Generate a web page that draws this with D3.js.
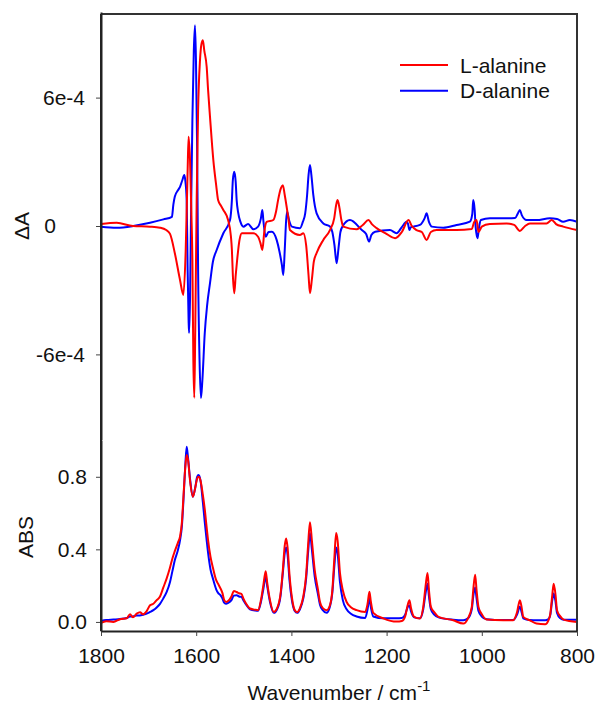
<!DOCTYPE html>
<html>
<head>
<meta charset="utf-8">
<script src="https://cdn.jsdelivr.net/npm/d3@7"></script>
<style>
  body { margin: 0; background: #fff; }
  svg { display: block; font-family: Arial, "Liberation Sans", sans-serif; }
</style>
</head>
<body>
<svg id="chart" width="595" height="711"></svg>
<script>
// difference spectra (units of 1e-4)
var wnDiffL = [1800,1767,1733,1697,1676,1663,1655,1645,1634,1627,1622,1618,1616,1613,1610,1608,1606,1604,1602,1599,1596,1592,1589,1586,1583,1578,1575,1571,1564,1558,1554,1548,1543,1533,1527,1525,1523,1520,1517,1514,1509,1504,1480,1470,1465,1461,1457,1452,1438,1432,1428,1422,1418,1414,1410,1406,1403,1382,1375,1369,1364,1361,1357,1353,1347,1333,1319,1310,1306,1303,1299,1295,1291,1263,1250,1238,1231,1221,1203,1182,1168,1154,1147,1137,1126,1116,1107,1095,1053,1021,1016,1011,1007,1000,983,948,932,920,909,899,864,853,844,829,800];
var diffL = [0.09,0.15,0,-0.03,-0.08,-0.19,-0.37,-1.26,-2.52,-3.22,-1.1,2.6,4.17,3.1,0.5,-1.6,-6.3,-8.03,-4.9,1.2,5.4,7.75,8.5,8.68,8.2,7.44,6.35,5.1,3.08,1.9,1.21,0.95,0.75,0.28,-0.5,-1.12,-2.3,-3.14,-2.3,-1.59,-0.65,-0.34,-0.34,-0.5,-0.8,-1.12,-0.28,0.19,0.28,0.7,1.21,1.77,1.91,1.45,0.9,0.3,-0.19,-0.42,-0.34,-0.9,-2.3,-3.14,-2.5,-1.68,-1.26,-0.65,-0.19,0.37,0.98,1.21,0.84,0.28,-0.03,-0.15,0.05,0.28,0.09,-0.1,-0.33,-0.57,-0.28,0.28,0,-0.19,-0.28,-0.65,-0.28,-0.19,-0.19,-0.14,0.19,0.28,-0.28,-0.03,0.09,0.12,0.05,-0.23,0,0.12,0.12,0.28,0.09,-0.03,-0.19];

var wnDiffD = [1800,1767,1732,1697,1669,1651,1648,1645,1638,1634,1629,1625,1623,1620,1618,1616,1615,1613,1611,1608,1605,1602.5,1600.5,1598,1596,1593,1590,1587,1582,1577,1571,1565,1557,1543,1529,1525,1523,1520,1517,1515,1512,1507,1501,1491,1480,1470,1464,1461,1459,1454,1448,1441,1431,1425,1420,1417,1414,1411,1409,1405,1399,1382,1376,1371,1367,1364,1361,1358,1354,1347,1333,1319,1314,1309.5,1305,1301,1297,1292,1277,1252,1243,1237,1232,1224,1193,1179,1168,1158,1155,1152,1149,1144,1130,1120,1116,1111,1105,1081,1053,1025,1020,1018,1015,1013,1009,1006,1002,983,948,930,924,920,916,906,885,857,842,829,815,800];
var diffD = [-0.03,-0.08,0,0.15,0.31,0.43,1.0,1.37,1.68,1.83,2.15,2.38,2.15,1.2,-2.05,-4.4,-5.0,-3.45,0.28,4.95,8.2,9.38,7.75,3.55,-2.05,-6.25,-8.04,-7.2,-5.0,-3.7,-2.67,-1.68,-1.12,-0.34,0.28,1.21,2.15,2.53,2.05,1.21,0.65,0.19,-0.03,0.09,-0.15,-0.03,0.37,0.75,0.28,-0.5,-0.28,-0.27,-0.65,-1.2,-1.82,-2.29,-1.12,0.28,0.67,0.28,-0.03,-0.1,0.19,0.59,1.45,2.38,2.85,2.38,1.45,0.59,0.12,-0.02,-0.28,-0.9,-1.74,-1.03,-0.28,0,0.28,-0.19,-0.37,-0.73,-0.42,-0.27,-0.19,-0.34,-0.05,0.2,0.1,-0.19,-0.05,-0.03,0.05,0.37,0.59,0.19,-0.03,-0.08,0.05,0.2,0.56,1.21,0.75,-0.03,-0.57,-0.09,0.28,0.36,0.36,0.37,0.6,0.75,0.51,0.28,0.28,0.36,0.33,0.2,0.28,0.2];

// absorbance spectra (both samples share the wavenumber grid)
var wnAbs = [1800,1789,1774,1760,1746,1739,1733,1725,1718,1712,1704,1697,1690,1683,1676,1669,1662,1655,1650,1645,1638,1634,1630,1627,1623,1620,1617,1613,1607,1602,1598,1595,1591,1586,1582,1578,1575,1570,1565,1558,1554,1550,1545,1541,1537,1533,1526,1521,1515,1510,1505,1501,1495,1487,1476,1470,1464,1459,1454,1451,1445,1437,1430,1423,1418,1414,1411,1408,1404,1399,1393,1388,1382,1375,1369,1365,1361,1357,1351,1344,1340,1334,1326,1319,1314,1310,1306,1303,1298,1292,1284,1275,1263,1245,1240,1236,1233,1228,1207,1179,1168,1161,1156,1152,1149,1142,1130,1123,1118,1114,1111,1107,1100,1091,1060,1039,1029,1021,1018,1014,1011,1007,1000,990,955,934,926,920,916,913,899,885,867,860,856,852,849,845,842,835,828,800];
var absL = [-0.005,0.004,0,0.015,0.02,0.043,0.026,0.046,0.054,0.042,0.06,0.092,0.1,0.12,0.14,0.19,0.24,0.3,0.35,0.39,0.44,0.47,0.55,0.68,0.85,0.92,0.89,0.78,0.69,0.74,0.79,0.8,0.78,0.7,0.62,0.52,0.45,0.36,0.3,0.23,0.21,0.19,0.16,0.12,0.11,0.115,0.14,0.17,0.165,0.158,0.155,0.13,0.1,0.074,0.067,0.065,0.12,0.2,0.28,0.22,0.12,0.055,0.076,0.15,0.285,0.42,0.46,0.41,0.26,0.136,0.065,0.054,0.076,0.14,0.26,0.42,0.55,0.45,0.285,0.175,0.11,0.076,0.065,0.092,0.175,0.34,0.49,0.45,0.27,0.175,0.11,0.081,0.065,0.055,0.1,0.166,0.11,0.05,0.02,0.002,0.005,0.03,0.09,0.12,0.08,0.028,0.019,0.083,0.2,0.27,0.175,0.083,0.054,0.028,0.009,-0.009,0.02,0.083,0.175,0.26,0.175,0.083,0.043,0.013,0.009,0.009,0.053,0.12,0.075,0.028,0.009,-0.009,-0.013,0.009,0.046,0.147,0.21,0.147,0.065,0.031,0.013,0];
var absD = [0.005,0.01,0.013,0.016,0.022,0.03,0.03,0.036,0.036,0.04,0.046,0.055,0.065,0.08,0.1,0.13,0.165,0.22,0.28,0.34,0.4,0.45,0.53,0.66,0.86,0.965,0.9,0.79,0.69,0.74,0.8,0.81,0.78,0.66,0.55,0.45,0.38,0.29,0.24,0.18,0.16,0.15,0.13,0.105,0.1,0.105,0.12,0.145,0.147,0.14,0.138,0.12,0.095,0.07,0.063,0.062,0.11,0.18,0.25,0.2,0.11,0.05,0.07,0.14,0.27,0.38,0.41,0.37,0.23,0.12,0.06,0.05,0.07,0.13,0.24,0.38,0.49,0.4,0.25,0.15,0.095,0.065,0.05,0.085,0.16,0.3,0.41,0.38,0.22,0.12,0.07,0.045,0.03,0.022,0.07,0.13,0.08,0.03,0.02,0.02,0.022,0.04,0.08,0.09,0.06,0.025,0.02,0.07,0.16,0.21,0.14,0.07,0.04,0.025,0.012,0.009,0.02,0.07,0.14,0.19,0.13,0.06,0.03,0.015,0.01,0.01,0.04,0.083,0.05,0.02,0.01,0.009,0.009,0.015,0.04,0.12,0.157,0.11,0.05,0.02,0.012,0.012];

var xTicks = [1800, 1600, 1400, 1200, 1000, 800];
var diffTicks = [6e-4, 0, -6e-4];
var diffTickLabels = ["6e-4", "0", "-6e-4"];
var absTicks = [0.0, 0.4, 0.8];
var absTickLabels = ["0.0", "0.4", "0.8"];
var seriesNames = ["L-alanine", "D-alanine"];
var seriesColors = ["#ff0000", "#0000ff"];

var margin = {left: 101, right: 18, top: 14, bottom: 80};
var W = 595, H = 711;
var plotR = W - margin.right;      // 577
var plotB = H - margin.bottom;     // 631
var split = 440;

var svg = d3.select("#chart");

var x = d3.scaleLinear().domain([1800, 800]).range([margin.left, plotR]);
var yDiff = d3.scaleLinear().domain([-1e-3, 1e-3]).range([split, 12]);
var yAbs = d3.scaleLinear().domain([-0.05, 1.0]).range([plotB, split + 0.5]);

function zip(ws, vs, k) {
    return ws.map(function(w, i) { return {w: w, v: vs[i] * k}; });
}

function drawLine(data, yScale, color) {
    var line = d3.line()
        .x(function(d) { return x(d.w); })
        .y(function(d) { return yScale(d.v); })
        .curve(d3.curveMonotoneX);
    svg.append("path")
        .datum(data)
        .attr("fill", "none")
        .attr("stroke", color)
        .attr("stroke-width", 2)
        .attr("stroke-linejoin", "round")
        .attr("d", line);
}

drawLine(zip(wnDiffD, diffD, 1e-4), yDiff, seriesColors[1]);
drawLine(zip(wnDiffL, diffL, 1e-4), yDiff, seriesColors[0]);
drawLine(zip(wnAbs, absD, 1), yAbs, seriesColors[1]);
drawLine(zip(wnAbs, absL, 1), yAbs, seriesColors[0]);

// frame: top and right
svg.append("path")
    .attr("d", "M" + margin.left + "," + margin.top + "H" + plotR + "V" + plotB)
    .attr("fill", "none").attr("stroke", "#333").attr("stroke-width", 2);

// axes
var fontSize = 21;

var xAxis = svg.append("g")
    .attr("transform", "translate(0," + plotB + ")")
    .call(d3.axisBottom(x).tickValues(xTicks).tickFormat(d3.format("d"))
        .tickSize(5).tickPadding(12).tickSizeOuter(0));

var yAxisDiff = svg.append("g")
    .attr("transform", "translate(" + margin.left + ",0)")
    .call(d3.axisLeft(yDiff).tickValues(diffTicks)
        .tickFormat(function(d, i) { return diffTickLabels[i]; })
        .tickSize(5).tickPadding(11).tickSizeOuter(0));

var yAxisAbs = svg.append("g")
    .attr("transform", "translate(" + margin.left + ",0)")
    .call(d3.axisLeft(yAbs).tickValues(absTicks)
        .tickFormat(function(d, i) { return absTickLabels[i]; })
        .tickSize(5).tickPadding(9).tickSizeOuter(0));

[xAxis, yAxisDiff, yAxisAbs].forEach(function(g) {
    g.select(".domain").attr("stroke", "#222").attr("stroke-width", 2);
    g.selectAll(".tick line").attr("stroke", "#444").attr("stroke-width", 1);
    g.selectAll("text").attr("font-size", fontSize).attr("fill", "#111")
        .attr("font-family", "Arial, 'Liberation Sans', sans-serif");
});
// continuous left spine through both panels
svg.append("line")
    .attr("x1", margin.left).attr("x2", margin.left)
    .attr("y1", margin.top).attr("y2", plotB)
    .attr("stroke", "#222").attr("stroke-width", 2);

// the zero label of the top panel sits further left in the original
yAxisDiff.selectAll(".tick text").filter(function(d) { return d === 0; })
    .attr("x", -45);

// axis titles
svg.append("text")
    .attr("transform", "translate(29,226) rotate(-90)")
    .attr("text-anchor", "middle")
    .attr("font-size", fontSize).attr("fill", "#111")
    .text("\u0394A");

svg.append("text")
    .attr("transform", "translate(33,537) rotate(-90)")
    .attr("text-anchor", "middle")
    .attr("font-size", fontSize).attr("fill", "#111")
    .text("ABS");

var xt = svg.append("text")
    .attr("x", (margin.left + plotR) / 2)
    .attr("y", 700)
    .attr("text-anchor", "middle")
    .attr("font-size", fontSize).attr("fill", "#111");
xt.append("tspan").text("Wavenumber / cm");
xt.append("tspan").attr("dy", -9).attr("font-size", 15).text("-1");

// legend
var legend = svg.append("g").attr("transform", "translate(400,65)");
seriesNames.forEach(function(name, i) {
    var row = legend.append("g").attr("transform", "translate(0," + (i * 25.7) + ")");
    row.append("line").attr("x1", 0).attr("x2", 48).attr("y1", 0).attr("y2", 0)
        .attr("stroke", seriesColors[i]).attr("stroke-width", 2);
    row.append("text").attr("x", 60).attr("y", 7.5).attr("font-size", fontSize)
        .attr("fill", "#111").text(name);
});
</script>
</body>
</html>
